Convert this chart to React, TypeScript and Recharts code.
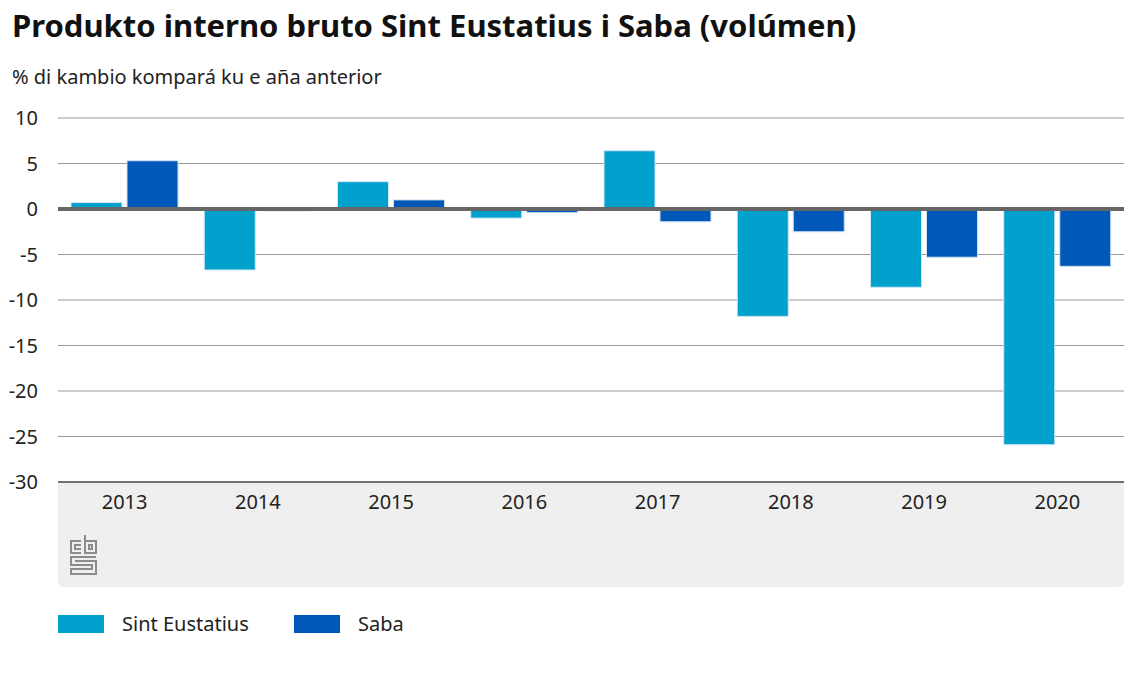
import React from "react";
import {
  BarChart,
  Bar,
  XAxis,
  YAxis,
  CartesianGrid,
  ReferenceLine,
} from "recharts";

const years = ["2013", "2014", "2015", "2016", "2017", "2018", "2019", "2020"];
const sintEustatius = [0.7, -6.7, 3.0, -1.0, 6.4, -11.8, -8.6, -25.9];
const saba = [5.3, -0.2, 1.0, -0.4, -1.4, -2.5, -5.3, -6.3];
const yTicks = [10, 5, 0, -5, -10, -15, -20, -25, -30];

const data = years.map((year, i) => ({
  year,
  sintEustatius: sintEustatius[i],
  saba: saba[i],
}));

const FONT = "'Noto Sans', 'Open Sans', sans-serif";
const SE_COLOR = "#00a1cd";
const SABA_COLOR = "#0058b8";

const CbsLogo = () => (
  <svg
    width={30}
    height={42}
    viewBox="0 0 30 42"
    style={{ position: "absolute", left: 69, top: 534 }}
  >
    <g fill="none" stroke="#8c8c8c" strokeWidth={2}>
      <path d="M12 7 H2 V19 H12" />
      <path d="M12 11 H6 V15 H12" />
      <path d="M16 1 V19 H27 V7 H16" />
      <path d="M20 11 H23 V15 H20 Z" />
      <path d="M27 23 H2 V31 H23 V35 H2 V40 H27 V27 H6" />
    </g>
  </svg>
);

const ChartLegend = () => (
  <div
    style={{
      position: "absolute",
      left: 58,
      top: 610,
      display: "flex",
      alignItems: "center",
      fontSize: 20,
      color: "#222",
    }}
  >
    <span style={{ width: 46, height: 18, background: SE_COLOR, display: "inline-block" }} />
    <span style={{ marginLeft: 18, width: 172 }}>Sint Eustatius</span>
    <span style={{ width: 46, height: 18, background: SABA_COLOR, display: "inline-block" }} />
    <span style={{ marginLeft: 18 }}>Saba</span>
  </div>
);

export default function App() {
  return (
    <div
      style={{
        position: "absolute",
        left: 0,
        top: 0,
        width: 1134,
        height: 684,
        background: "#fff",
        fontFamily: FONT,
      }}
    >
      <div
        style={{
          position: "absolute",
          left: 12,
          top: 4,
          fontSize: 31,
          fontWeight: 700,
          color: "#111",
          whiteSpace: "nowrap",
        }}
      >
        Produkto interno bruto Sint Eustatius i Saba (volúmen)
      </div>
      <div
        style={{
          position: "absolute",
          left: 12,
          top: 63,
          fontSize: 20,
          color: "#222",
          whiteSpace: "nowrap",
        }}
      >
        % di kambio kompará ku e aña anterior
      </div>
      <div
        style={{
          position: "absolute",
          left: 58,
          top: 482,
          width: 1066,
          height: 105,
          background: "#efefef",
          borderRadius: "0 0 6px 6px",
        }}
      />
      <CbsLogo />
      <ChartLegend />
      <div style={{ position: "absolute", left: 0, top: 0 }}>
        <BarChart
          width={1134}
          height={600}
          data={data}
          margin={{ top: 118, right: 10, left: 0, bottom: 13 }}
          barSize={51}
          barGap={5}
          style={{ fontFamily: FONT }}
        >
          <CartesianGrid vertical={false} stroke="#9a9a9a" strokeWidth={1} />
          <XAxis
            dataKey="year"
            height={105}
            axisLine={{ stroke: "#555", strokeWidth: 1.5 }}
            tickLine={false}
            tick={{ fontSize: 20, fill: "#222" }}
            tickMargin={7}
          />
          <YAxis
            width={58}
            domain={[-30, 10]}
            ticks={yTicks}
            axisLine={false}
            tickLine={false}
            tick={{ fontSize: 20, fill: "#222", textAnchor: "end" }}
            tickMargin={14}
          />
          <Bar
            dataKey="sintEustatius"
            name="Sint Eustatius"
            fill={SE_COLOR}
            stroke="#cfe6f2"
            strokeWidth={1}
            isAnimationActive={false}
          />
          <Bar
            dataKey="saba"
            name="Saba"
            fill={SABA_COLOR}
            stroke="#cfe0f2"
            strokeWidth={1}
            isAnimationActive={false}
          />
          <ReferenceLine y={0} stroke="#666" strokeWidth={4} />
        </BarChart>
      </div>
    </div>
  );
}
